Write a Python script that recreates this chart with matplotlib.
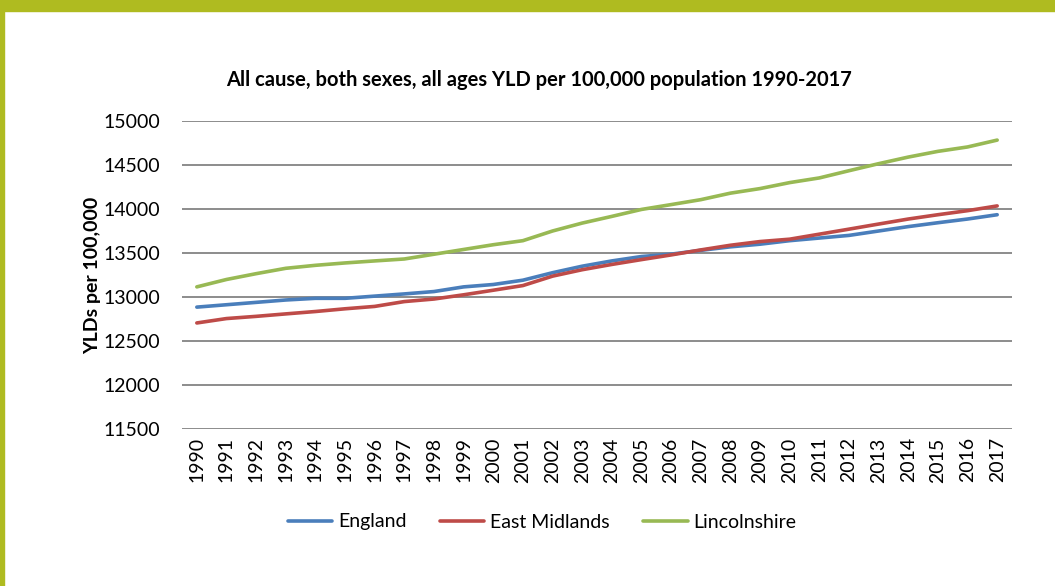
import matplotlib.pyplot as plt
from matplotlib.patches import Rectangle

years = [str(y) for y in range(1990, 2018)]

england = [12885, 12912, 12939, 12966, 12985, 12985, 13010, 13035, 13062, 13115,
           13142, 13191, 13276, 13350, 13410, 13460, 13487, 13530, 13570, 13600,
           13640, 13670, 13700, 13750, 13800, 13844, 13886, 13935]
east_midlands = [12705, 12755, 12780, 12808, 12835, 12866, 12893, 12948, 12977, 13025,
                 13077, 13130, 13237, 13310, 13370, 13425, 13478, 13535, 13588, 13630,
                 13657, 13714, 13771, 13829, 13886, 13935, 13981, 14035]
lincolnshire = [13115, 13199, 13265, 13326, 13360, 13387, 13410, 13432, 13486, 13540,
                13594, 13640, 13750, 13840, 13916, 13995, 14050, 14106, 14180, 14232,
                14300, 14353, 14435, 14515, 14590, 14655, 14705, 14783]

plt.rcParams['font.family'] = ['Lato', 'DejaVu Sans']

fig = plt.figure(figsize=(10.55, 5.86), dpi=100)
# olive frame along top and left edge
fig.patches.append(Rectangle((0, 1 - 11 / 586), 1, 11 / 586, transform=fig.transFigure,
                             color='#AFBB20', zorder=0))
fig.patches.append(Rectangle((0, 0), 4 / 1055, 1, transform=fig.transFigure,
                             color='#AFBB20', zorder=0))

ax = fig.add_axes([182 / 1055, 1 - 429 / 586, (1012 - 182) / 1055, (429 - 121) / 586])

x = list(range(len(years)))
ax.plot(x, england, color='#4A7EBB', lw=2.6, label='England', solid_capstyle='round')
ax.plot(x, east_midlands, color='#BE4B48', lw=2.6, label='East Midlands', solid_capstyle='round')
ax.plot(x, lincolnshire, color='#98B954', lw=2.6, label='Lincolnshire', solid_capstyle='round')

ax.set_xlim(-0.5, len(years) - 0.5)
ax.set_ylim(11500, 15000)
ax.set_yticks(range(11500, 15001, 500))
ax.set_xticks(x)
ax.set_xticklabels(years, rotation=90)
ax.tick_params(length=0, labelsize=14)
ax.tick_params(axis='y', pad=16)
ax.tick_params(axis='x', pad=6)
ax.grid(axis='y', color='#8c8c8c', lw=1.4)
ax.set_axisbelow(True)
for s in ax.spines.values():
    s.set_visible(False)

ax.set_ylabel('YLDs per 100,000', fontsize=14, fontweight='bold', labelpad=1)
fig.text(539 / 1055, 1 - 80 / 586, 'All cause, both sexes, all ages YLD per 100,000 population 1990-2017',
         ha='center', va='center', fontsize=14.5, fontweight='bold')

fig.legend(loc='center', bbox_to_anchor=(542 / 1055, 1 - 522 / 586), ncol=3, frameon=False,
           fontsize=14, handlelength=2.3, handletextpad=0.3, columnspacing=1.7)

fig.savefig('out.png', dpi=100)
